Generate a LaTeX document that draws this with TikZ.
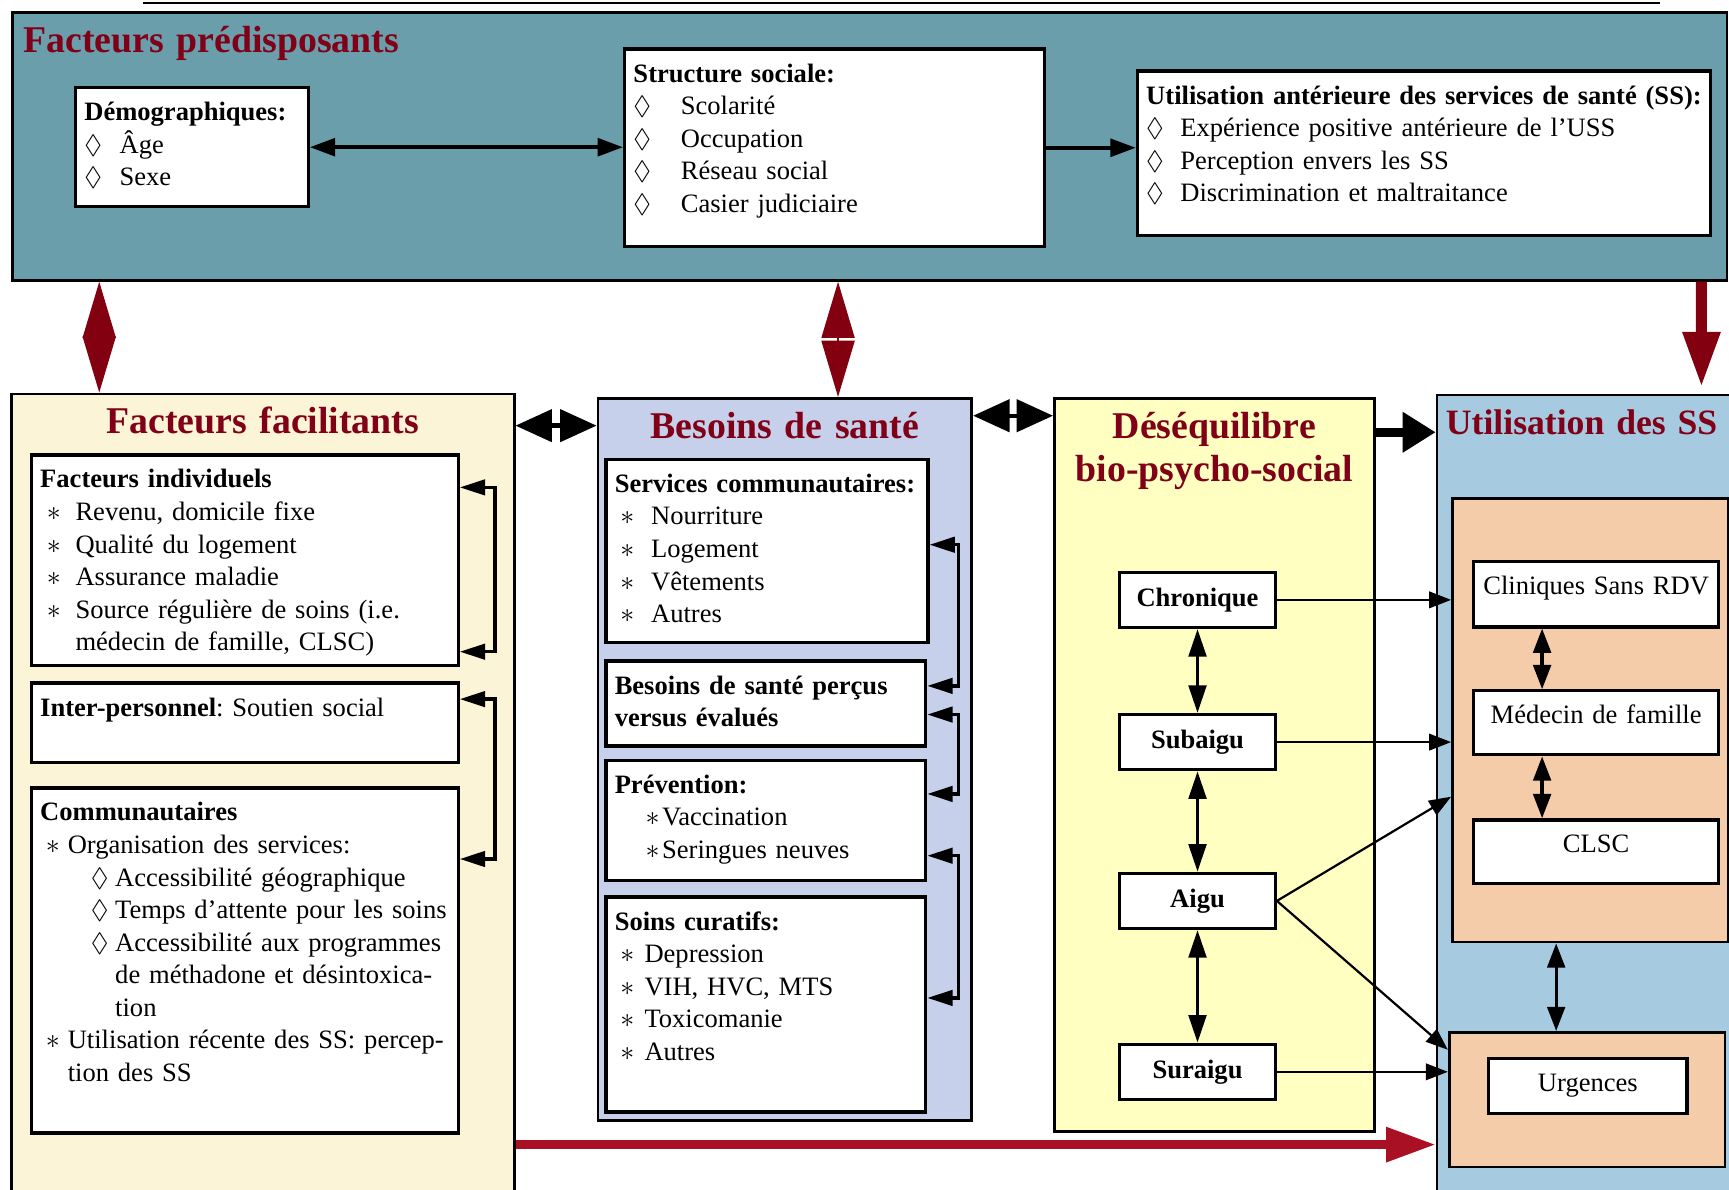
\documentclass[tikz,border=0pt]{standalone}
\usepackage{amssymb}
\usepackage{fontspec}
\setmainfont{Liberation Serif}
\usepackage{tikz}
\usetikzlibrary{arrows.meta,positioning}

\definecolor{bleupred}{RGB}{106,158,170}
\definecolor{creme}{RGB}{252,244,214}
\definecolor{lavande}{RGB}{198,208,234}
\definecolor{jaune}{RGB}{255,255,194}
\definecolor{bleuuti}{RGB}{166,202,224}
\definecolor{peche}{RGB}{244,204,170}
\definecolor{rougetit}{RGB}{128,0,24}
\definecolor{rougef}{RGB}{130,0,16}
\definecolor{rougev}{RGB}{170,16,36}

\newcommand{\fcorps}{\fontsize{13.7}{16.8}\selectfont\frenchspacing}
\newcommand{\ftitre}{\fontsize{19.5}{22.2}\selectfont\bfseries}
\newcommand{\puce}[3][0mm]{\hspace*{#1}\makebox[#2][l]{#3}}

\begin{document}
\begin{tikzpicture}[x=0.2mm,y=-0.2mm,
zone/.style={draw,line width=0.5mm,anchor=north west,inner xsep=2mm,inner ysep=2mm,text height=5.2mm,font=\ftitre,text=rougetit},
box/.style={draw,line width=0.6mm,fill=white,anchor=north west,align=left,inner xsep=1.6mm,inner ysep=2mm,text height=4mm,font=\fcorps},
etat/.style={draw,line width=0.6mm,fill=white,minimum width=28.2mm,minimum height=10mm,inner sep=0pt,font=\fcorps\bfseries},
bloc/.style={draw,line width=0.5mm,fill=peche,anchor=north west,inner sep=0pt,minimum width=50mm},
haut/.style={line width=0.7mm,{Triangle[length=4.6mm,width=3.2mm]}-{Triangle[length=4.6mm,width=3.2mm]}},
hautun/.style={line width=0.7mm,-{Triangle[length=4.6mm,width=3.2mm]}},
losa/.style={draw=rougef,line width=0.3mm,{Triangle[length=10.2mm,width=6mm]}-{Triangle[length=10.2mm,width=6mm]}},
descente/.style={draw=rougef,line width=2mm,-{Triangle[length=10mm,width=6.4mm]},shorten >=1.2mm},
rouge/.style={draw=rougev,line width=1.6mm,-{Triangle[length=9mm,width=6mm]}},
gros/.style={line width=0.8mm,{Triangle[length=6.6mm,width=5.8mm]}-{Triangle[length=6.6mm,width=5.8mm]}},
grosun/.style={line width=1.6mm,-{Triangle[length=6mm,width=7mm]}},
crochet/.style={line width=0.6mm,{Triangle[length=4.6mm,width=2.8mm]}-{Triangle[length=4.6mm,width=2.8mm]}},
vert/.style={line width=0.6mm,{Triangle[length=5mm,width=3.2mm]}-{Triangle[length=5mm,width=3.2mm]}},
vertu/.style={line width=0.6mm,{Triangle[length=4.4mm,width=3.2mm]}-{Triangle[length=4.4mm,width=3.2mm]}},
fleche/.style={line width=0.4mm,-{Triangle[length=4mm,width=3mm]}}]
\useasboundingbox (0,0) rectangle (1568,1079);
\clip (0,0) rectangle (1568,1079);
\fill[white] (0,0) rectangle (1568,1079);
\draw[line width=0.4mm] (130,3) -- (1505,3);

\node[zone,fill=bleupred,align=left,text width=307mm,text depth=39.4mm] (pred) at (10,10) {Facteurs prédisposants};
\node[zone,fill=creme,align=center,text width=87.2mm,text depth=137.6mm] (fac) at (9,356) {Facteurs facilitants};
\node[zone,fill=lavande,align=center,text width=63.8mm,text depth=121.8mm] (bes) at (541,360) {Besoins de santé};
\node[zone,fill=jaune,align=center,text width=54mm,text depth=123.8mm] (des) at (955,360) {Déséquilibre\\bio-psycho-social};
\node[zone,fill=bleuuti,align=left,inner xsep=1.6mm,text width=70mm,text depth=137.4mm,font=\fontsize{18.4}{22.2}\selectfont\bfseries] (uti) at (1302,357) {Utilisation des SS};

\node[box,text width=39mm,text depth=13.6mm] (demo) at (67,78) {\textbf{Démographiques:}\\\puce{6.4mm}{$\lozenge$}Âge\\\puce{6.4mm}{$\lozenge$}Sexe};
\node[box,text width=73mm,text depth=27.8mm] (soc) at (565,43) {\textbf{Structure sociale:}\\\puce{8.6mm}{$\lozenge$}Scolarité\\\puce{8.6mm}{$\lozenge$}Occupation\\\puce{8.6mm}{$\lozenge$}Réseau social\\\puce{8.6mm}{$\lozenge$}Casier judiciaire};
\node[box,text width=100.8mm,text depth=21.8mm] (ant) at (1030,63) {\textbf{Utilisation antérieure des services de santé (SS):}\\\puce{6.2mm}{$\lozenge$}Expérience positive antérieure de l’USS\\\puce{6.2mm}{$\lozenge$}Perception envers les SS\\\puce{6.2mm}{$\lozenge$}Discrimination et maltraitance};

\node[box,text width=74.2mm,text depth=30.2mm] (indiv) at (27,411) {\textbf{Facteurs individuels}\\\puce[1.2mm]{5.2mm}{$\ast$}Revenu, domicile fixe\\\puce[1.2mm]{5.2mm}{$\ast$}Qualité du logement\\\puce[1.2mm]{5.2mm}{$\ast$}Assurance maladie\\\puce[1.2mm]{5.2mm}{$\ast$}Source régulière de soins (i.e.\\\hspace*{6.4mm}médecin de famille, CLSC)};
\node[box,text width=74.2mm,text depth=6.4mm] (inter) at (27,618) {\textbf{Inter-personnel}: Soutien social};
\node[box,text width=74.2mm,text depth=54.6mm] (comm) at (27,713) {\textbf{Communautaires}\\\puce[1mm]{4mm}{$\ast$}Organisation des services:\\\puce[9.2mm]{4.4mm}{$\lozenge$}Accessibilité géographique\\\puce[9.2mm]{4.4mm}{$\lozenge$}Temps d’attente pour les soins\\\puce[9.2mm]{4.4mm}{$\lozenge$}Accessibilité aux programmes\\\hspace*{13.6mm}de méthadone et désintoxica-\\\hspace*{13.6mm}tion\\\puce[1mm]{4mm}{$\ast$}Utilisation récente des SS: percep-\\\hspace*{5mm}tion des SS};

\node[box,text width=55.2mm,text depth=25.2mm] (sc) at (548,415) {\textbf{Services communautaires:}\\\puce[1mm]{5.6mm}{$\ast$}Nourriture\\\puce[1mm]{5.6mm}{$\ast$}Logement\\\puce[1mm]{5.6mm}{$\ast$}Vêtements\\\puce[1mm]{5.6mm}{$\ast$}Autres};
\node[box,text width=54.8mm,text depth=7.4mm] (per) at (548,598) {\textbf{Besoins de santé perçus}\\\textbf{versus évalués}};
\node[box,text width=54.8mm,text depth=13.8mm] (prev) at (548,688) {\textbf{Prévention:}\\\puce[5.6mm]{3mm}{$\ast$}Vaccination\\\puce[5.6mm]{3mm}{$\ast$}Seringues neuves};
\node[box,text width=54.8mm,text depth=31mm] (cur) at (548,812) {\textbf{Soins curatifs:}\\\puce[1mm]{4.4mm}{$\ast$}Depression\\\puce[1mm]{4.4mm}{$\ast$}VIH, HVC, MTS\\\puce[1mm]{4.4mm}{$\ast$}Toxicomanie\\\puce[1mm]{4.4mm}{$\ast$}Autres};

\node[etat] (chr) at (1086,544) {Chronique};
\node[etat] (sub) at (1086,673) {Subaigu};
\node[etat] (aig) at (1086,817) {Aigu};
\node[etat] (sur) at (1086,972) {Suraigu};

\node[bloc,minimum height=80.4mm] (uo1) at (1316,451) {};
\node[bloc,minimum height=24.4mm] (uo2) at (1313,935) {};
\node[box,align=center,text width=41.2mm,text depth=3.8mm] (cli) at (1335,508) {Cliniques Sans RDV};
\node[box,align=center,text width=41.2mm,text depth=3.6mm] (med) at (1335,625) {Médecin de famille};
\node[box,align=center,text width=41.2mm,text depth=3.6mm] (clsc) at (1335,742) {CLSC};
\node[etat,font=\fcorps,minimum width=36mm] (urg) at (1440,985) {Urgences};

\draw[haut] (demo.east) -- (demo.east -| soc.west);
\draw[hautun] (soc.east) -- (soc.east -| ant.west);
\draw[losa] ([xshift=16mm]pred.south west) -- ([xshift=16.2mm]fac.north west);
\draw[losa] ([xshift=150mm]pred.south west) -- ([xshift=43.8mm]bes.north west);
\draw[descente] ([xshift=306.6mm]pred.south west) -- ([xshift=48.2mm]uti.north west);

\coordinate (g1) at ([yshift=-6mm]fac.north east);
\coordinate (g2) at ([yshift=-3.4mm]bes.north east);
\coordinate (g3) at ([yshift=-6.4mm]des.north east);
\coordinate (r0) at ([yshift=-136.4mm]fac.north east);
\draw[gros] (g1) -- (g1 -| bes.west);
\draw[gros] (g2) -- (g2 -| des.west);
\draw[grosun] (g3) -- (g3 -| uti.west);
\draw[rouge] (r0) -- (r0 -| uti.west);

\draw[crochet] ([yshift=-6.2mm]indiv.north east) -- ++(6.4mm,0) |- ([yshift=2.8mm]indiv.south east);
\draw[crochet] ([yshift=-3.2mm]inter.north east) -- ++(6.4mm,0) |- ([yshift=-13.2mm]comm.north east);
\draw[crochet] ([yshift=-15.8mm]sc.north east) -- ++(5.2mm,0) |- ([yshift=-4.8mm]per.north east);
\draw[crochet] ([yshift=-10mm]per.north east) -- ++(5.6mm,0) |- ([yshift=-6.4mm]prev.north east);
\draw[crochet] ([yshift=-17.6mm]prev.north east) -- ++(5.6mm,0) |- ([yshift=-18.6mm]cur.north east);

\draw[vert] (chr) -- (sub);
\draw[vert] (sub) -- (aig);
\draw[vert] (aig) -- (sur);
\draw[vertu] ([xshift=-9.8mm]cli.south) -- ([xshift=-9.8mm]med.north);
\draw[vertu] ([xshift=-9.8mm]med.south) -- ([xshift=-9.8mm]clsc.north);
\coordinate (u0) at ([xshift=-6.2mm]uo1.south);
\draw[vertu] (u0) -- (u0 |- uo2.north);

\draw[fleche] (chr.east) -- (chr.east -| uo1.west);
\draw[fleche] (sub.east) -- (sub.east -| uo1.west);
\draw[fleche] (aig.east) -- ([yshift=26.6mm]uo1.south west);
\draw[fleche] (aig.east) -- ([yshift=-3.4mm]uo2.north west);
\draw[fleche] (sur.east) -- (sur.east -| uo2.west);
\end{tikzpicture}
\end{document}
